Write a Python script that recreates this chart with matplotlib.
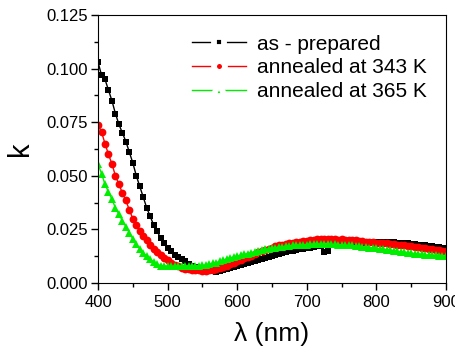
import numpy as np
import matplotlib
matplotlib.use("Agg")
from matplotlib import pyplot as plt
from matplotlib.ticker import MultipleLocator

plt.rcParams["font.family"] = ["Liberation Sans", "DejaVu Sans"]

# Extinction coefficient spectra, sampled every 5 nm
wavelength = np.arange(400, 901, 5)

k_as_prepared = [
    0.1030, 0.0970, 0.0950, 0.0900, 0.0850, 0.0790, 0.0740, 0.0700, 0.0660, 0.0610,
    0.0560, 0.0500, 0.0450, 0.0400, 0.0350, 0.0310, 0.0270, 0.0240, 0.0210, 0.0185,
    0.0165, 0.0148, 0.0132, 0.0122, 0.0110, 0.0100, 0.0088, 0.0080, 0.0073, 0.0068,
    0.0064, 0.0060, 0.0056, 0.0054, 0.0053, 0.0055, 0.0060, 0.0065, 0.0068, 0.0072,
    0.0077, 0.0082, 0.0088, 0.0093, 0.0098, 0.0103, 0.0107, 0.0112, 0.0117, 0.0121,
    0.0126, 0.0131, 0.0136, 0.0140, 0.0144, 0.0148, 0.0151, 0.0154, 0.0157, 0.0160,
    0.0162, 0.0165, 0.0167, 0.0170, 0.0172, 0.0145, 0.0148, 0.0175, 0.0177, 0.0178,
    0.0180, 0.0181, 0.0182, 0.0183, 0.0184, 0.0185, 0.0186, 0.0187, 0.0188, 0.0189,
    0.0190, 0.0190, 0.0190, 0.0190, 0.0189, 0.0189, 0.0188, 0.0187, 0.0186, 0.0185,
    0.0183, 0.0181, 0.0179, 0.0177, 0.0175, 0.0173, 0.0171, 0.0168, 0.0166, 0.0164,
    0.0162,
]

k_343 = [
    0.0735, 0.0705, 0.0650, 0.0600, 0.0555, 0.0500, 0.0460, 0.0420, 0.0385, 0.0340,
    0.0300, 0.0270, 0.0243, 0.0220, 0.0198, 0.0178, 0.0160, 0.0145, 0.0130, 0.0117,
    0.0105, 0.0095, 0.0085, 0.0077, 0.0070, 0.0066, 0.0063, 0.0061, 0.0060, 0.0058,
    0.0057, 0.0057, 0.0058, 0.0060, 0.0063, 0.0068, 0.0074, 0.0081, 0.0088, 0.0095,
    0.0102, 0.0108, 0.0114, 0.0120, 0.0126, 0.0134, 0.0142, 0.0148, 0.0154, 0.0160,
    0.0165, 0.0170, 0.0175, 0.0179, 0.0182, 0.0185, 0.0188, 0.0191, 0.0193, 0.0195,
    0.0197, 0.0199, 0.0201, 0.0203, 0.0204, 0.0204, 0.0203, 0.0205, 0.0203, 0.0201,
    0.0203, 0.0201, 0.0199, 0.0202, 0.0199, 0.0197, 0.0196, 0.0192, 0.0190, 0.0189,
    0.0188, 0.0187, 0.0186, 0.0184, 0.0183, 0.0181, 0.0179, 0.0177, 0.0176, 0.0174,
    0.0172, 0.0169, 0.0166, 0.0163, 0.0161, 0.0159, 0.0157, 0.0155, 0.0153, 0.0151,
    0.0150,
]

k_365 = [
    0.0555, 0.0510, 0.0460, 0.0425, 0.0390, 0.0350, 0.0320, 0.0290, 0.0262, 0.0235,
    0.0205, 0.0180, 0.0160, 0.0140, 0.0125, 0.0110, 0.0098, 0.0088, 0.0080, 0.0078,
    0.0078, 0.0077, 0.0078, 0.0079, 0.0080, 0.0080, 0.0080, 0.0080, 0.0081, 0.0081,
    0.0082, 0.0084, 0.0087, 0.0091, 0.0095, 0.0100, 0.0106, 0.0112, 0.0117, 0.0121,
    0.0125, 0.0129, 0.0133, 0.0137, 0.0141, 0.0146, 0.0150, 0.0153, 0.0156, 0.0159,
    0.0162, 0.0165, 0.0167, 0.0169, 0.0171, 0.0173, 0.0175, 0.0176, 0.0177, 0.0178,
    0.0179, 0.0180, 0.0181, 0.0182, 0.0182, 0.0182, 0.0182, 0.0181, 0.0180, 0.0179,
    0.0178, 0.0177, 0.0176, 0.0175, 0.0173, 0.0171, 0.0169, 0.0167, 0.0165, 0.0163,
    0.0161, 0.0159, 0.0157, 0.0155, 0.0153, 0.0150, 0.0147, 0.0145, 0.0143, 0.0141,
    0.0139, 0.0137, 0.0135, 0.0133, 0.0131, 0.0130, 0.0129, 0.0128, 0.0127, 0.0126,
    0.0125,
]

series = [
    (k_as_prepared, "as - prepared", "black", "s", 5.0),
    (k_343, "annealed at 343 K", "red", "o", 5.6),
    (k_365, "annealed at 365 K", "#00ee00", "^", 6.0),
]

fig = plt.figure(figsize=(4.56, 3.51), dpi=100)
ax = fig.add_axes([0.215, 0.194, 0.763, 0.763])

for k, label, color, marker, ms in series:
    ax.plot(wavelength, k, color=color, linewidth=1.0, marker=marker,
            markersize=ms, markeredgewidth=0, label=label)

ax.set_xlim(400, 900)
ax.set_ylim(0, 0.125)
ax.xaxis.set_major_locator(MultipleLocator(100))
ax.xaxis.set_minor_locator(MultipleLocator(50))
ax.yaxis.set_major_locator(MultipleLocator(0.025))
ax.yaxis.set_minor_locator(MultipleLocator(0.0125))
ax.tick_params(which="both", direction="out", top=False, right=False,
               labelsize=12, width=1)
ax.tick_params(which="major", length=5)
ax.tick_params(which="minor", length=3)
ax.tick_params(axis="x", which="both", pad=4)
ax.tick_params(axis="y", which="both", pad=2)
ax.set_yticklabels([f"{v:.3f}" for v in ax.get_yticks()])

ax.set_xlabel("λ (nm)", fontsize=19, labelpad=8)
ax.set_ylabel("k", fontsize=21, labelpad=9)

leg = ax.legend(loc="upper right", frameon=False, fontsize=15, handlelength=2.6,
                markerscale=1.4, labelspacing=0.22, handletextpad=0.55,
                bbox_to_anchor=(1.0, 0.997))
# white rim around the legend markers leaves a gap in each handle line
for h in leg.legend_handles:
    h.set_markeredgecolor("white")
    h.set_markeredgewidth(4.2)

fig.savefig("out.png", dpi=100)
